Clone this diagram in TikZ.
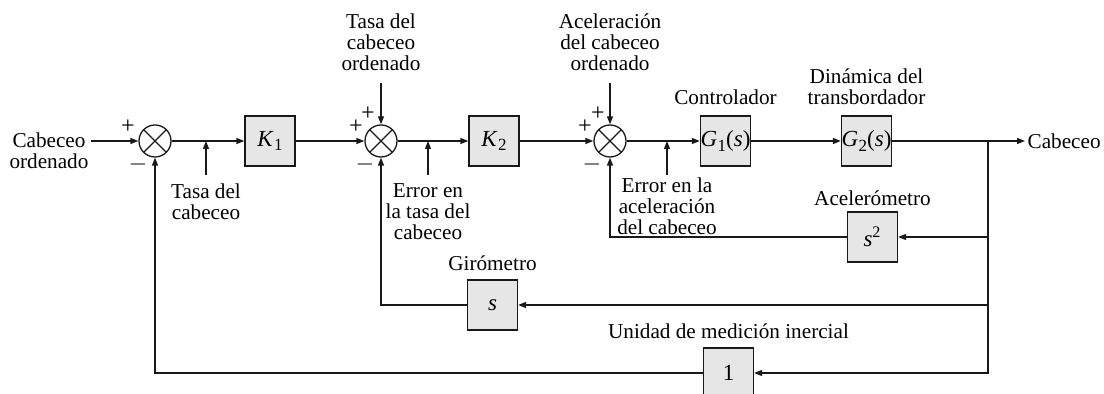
\documentclass[tikz,border=0pt]{standalone}
\usepackage{fontspec}
\setmainfont{Liberation Serif}
\usepackage{xcolor}
\usepackage{tikz}
\usetikzlibrary{arrows.meta, positioning}
\definecolor{blockgray}{RGB}{230,230,230}
\definecolor{linedark}{RGB}{25,25,25}
\newcommand{\lowidx}[1]{\kern0.3pt\raisebox{-0.45ex}{\fontsize{8.5}{9}\selectfont #1}}

\begin{document}
\begin{tikzpicture}[x=0.5pt,y=-0.5pt,
        font=\fontsize{10.6}{10.5}\selectfont,line width=0.65pt,draw=linedark,
        block/.style={rectangle,draw=linedark,fill=blockgray,minimum size=25pt,
                      inner sep=0pt,font=\fontsize{11.5}{13}\selectfont},
        summer/.style={circle,draw=linedark,minimum size=16pt,inner sep=0pt,
                       path picture={\draw (path picture bounding box.north west)
                         -- (path picture bounding box.south east)
                         (path picture bounding box.north east)
                         -- (path picture bounding box.south west);}},
        signal/.style={-{Triangle[length=4pt,width=3pt]}},
        sign/.style={font=\fontsize{12}{12}\selectfont,inner sep=0pt},
        note/.style={align=center,inner sep=1pt}]
      \useasboundingbox (0,0) rectangle (1104,394);
      \node[summer] (s1) at (155,141) {};
      \node[summer] (s2) at (381,141) {};
      \node[summer] (s3) at (610,141) {};
      \node[block] (k1) at (270,141) {\textit{K}\lowidx{1}};
      \node[block] (k2) at (494,141) {\textit{K}\lowidx{2}};
      \node[block] (g1) at (725.5,141) {\textit{G}\lowidx{1}(\textit{s})};
      \node[block] (g2) at (866.5,141) {\textit{G}\lowidx{2}(\textit{s})};
      \node[block] (acc) at (872.5,237) {\textit{s}\textsuperscript{2}};
      \node[block] (gyro) at (492.5,305) {\textit{s}};
      \node[block] (imu) at (728.5,373) {1};
      \node[note] (cmd) at (49,151) {Cabeceo\\ordenado};
      \coordinate (split) at (988,141);
      \node[note,anchor=west] (out) at (1025,141) {Cabeceo};
      \draw[signal] (cmd.east |- s1) -- (s1);
      \draw[signal] (s1) -- (k1);
      \draw[signal] (k1) -- (s2);
      \draw[signal] (s2) -- (k2);
      \draw[signal] (k2) -- (s3);
      \draw[signal] (s3) -- (g1);
      \draw[signal] (g1) -- (g2);
      \draw[signal] (g2) -- (out);
      \draw[signal] (split) |- (acc);
      \draw[signal] (split) |- (gyro);
      \draw[signal] (split) |- (imu);
      \draw[signal] (acc) -| (s3);
      \draw[signal] (gyro) -| (s2);
      \draw[signal] (imu) -| (s1);
      % commanded inputs from above
      \coordinate (r2) at (381,83);
      \coordinate (r3) at (610,83);
      \draw[signal] (r2) -- (s2);
      \draw[signal] (r3) -- (s3);
      \node[note,above=5pt of r2] (r2lbl) {Tasa del\\cabeceo\\ordenado};
      \node[note,above=5pt of r3] (r3lbl) {Aceleración\\del cabeceo\\ordenado};
      % signal labels below the line
      \coordinate (t1) at (206,175);
      \coordinate (t2) at (428,175);
      \coordinate (t3) at (667,175);
      \draw[signal] (t1) -- (t1 |- s1);
      \draw[signal] (t2) -- (t2 |- s2);
      \draw[signal] (t3) -- (t3 |- s3);
      \node[note,below=3pt of t1] (t1lbl) {Tasa del\\cabeceo};
      \node[note,below=3pt of t2] (t2lbl) {Error en\\la tasa del\\cabeceo};
      \node[note,below=0pt of t3] (t3lbl) {Error en la\\aceleración\\del cabeceo};
      \node[note,above=4pt of g1] (g1lbl) {Controlador};
      \node[note,above=4pt of g2] (g2lbl) {Dinámica del\\transbordador};
      \node[note,above=1.5pt of acc] (acclbl) {Acelerómetro};
      \node[note,above=3pt of gyro] (gyrolbl) {Girómetro};
      \node[note,above=3pt of imu] (imulbl) {Unidad de medición inercial};
      % signs at the summing points
      \node[sign] (p1) at ([shift={(-27,-14)}]s1) {+};
      \node[sign] (m1) at ([shift={(-17,24)}]s1) {$-$};
      \node[sign] (p2) at ([shift={(-25,-14)}]s2) {+};
      \node[sign] (q2) at ([shift={(-13,-27)}]s2) {+};
      \node[sign] (m2) at ([shift={(-16,24)}]s2) {$-$};
      \node[sign] (p3) at ([shift={(-25,-14)}]s3) {+};
      \node[sign] (q3) at ([shift={(-12,-27)}]s3) {+};
      \node[sign] (m3) at ([shift={(-18,24)}]s3) {$-$};
    \end{tikzpicture}
\end{document}
